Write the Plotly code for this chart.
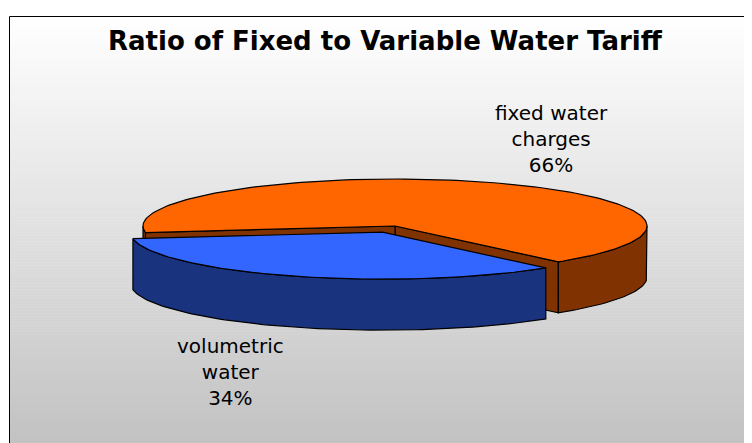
import numpy as np
import plotly.graph_objects as go

# ---------------- data ----------------
categories = ["fixed water charges", "volumetric water"]
label_lines = [["fixed water", "charges"], ["volumetric", "water"]]
values = [66, 34]
title_text = "Ratio of Fixed to Variable Water Tariff"

# ---------------- styling / geometry (screen pixel units) ----------------
VW, VH = 752, 443          # browser window
OFF = 8                    # page body margin: figure starts 8px in
W, H = VW - OFF, VH - OFF  # figure size so it reaches the window edges
top_colors = ["#FF6600", "#3366FF"]
side_colors = ["#803300", "#1A337F"]
explode = [0.0, 0.14]
CX, CY = 395.0, 226.0      # centre of pie top
RX, RY = 252.0, 47.0       # ellipse radii
DEPTH = 51.0               # thickness
START = 188.0              # first slice starts here (deg), slices run clockwise
label_pos = [(551, 139), (230, 372)]

total = float(sum(values))

fig = go.Figure()

# background gradient inside frame
FX0, FY0 = 9.5, 16.5
n_strips = 143
ys = np.linspace(FY0, VH + 2, n_strips + 1)
shapes = []
for i in range(n_strips):
    t = (0.5 * (ys[i] + ys[i + 1]) - FY0) / (VH - FY0)
    c = int(round(max(194, 255 - 61 * t)))
    shapes.append(dict(type="rect", xref="x", yref="y", x0=FX0, x1=VW,
                       y0=ys[i], y1=min(VH, ys[i + 1] + 0.6), layer="below",
                       line=dict(width=0), fillcolor=f"rgb({c},{c},{c})"))
# frame: only left and top edges are inside the window
shapes.append(dict(type="line", xref="x", yref="y", x0=FX0, y0=FY0, x1=FX0, y1=VH,
                   layer="above", line=dict(color="#000000", width=1)))
shapes.append(dict(type="line", xref="x", yref="y", x0=FX0, y0=FY0, x1=VW, y1=FY0,
                   layer="above", line=dict(color="#000000", width=1)))


def arc(a0, a1, cx, cy, dz=0.0, n=None):
    if n is None:
        n = max(2, int(abs(a1 - a0) / 1.5) + 2)
    th = np.radians(np.linspace(a0, a1, n))
    return list(cx + RX * np.cos(th)), list(cy - RY * np.sin(th) + dz)


def poly(xs, ys, fill):
    fig.add_trace(go.Scatter(x=xs + [xs[0]], y=ys + [ys[0]], mode="lines", fill="toself",
                             fillcolor=fill, line=dict(color="#000000", width=1.2),
                             hoverinfo="skip", showlegend=False))


# slice angles
slices = []
cum = 0.0
for i, v in enumerate(values):
    a_hi = START - cum / total * 360.0
    a_lo = a_hi - v / total * 360.0
    cum += v
    mid = np.radians(0.5 * (a_lo + a_hi))
    ox = explode[i] * RX * np.cos(mid)
    oy = -explode[i] * RY * np.sin(mid)
    slices.append(dict(i=i, lo=a_lo, hi=a_hi, cx=CX + ox, cy=CY + oy, s=np.sin(mid)))

# back slices first
for sl in sorted(slices, key=lambda d: -d["s"]):
    i, lo, hi, cx, cy = sl["i"], sl["lo"], sl["hi"], sl["cx"], sl["cy"]
    # radial walls
    if np.cos(np.radians(lo)) > 0:
        px, py = arc(lo, lo, cx, cy, n=1)
        poly([cx, px[0], px[0], cx], [cy, py[0], py[0] + DEPTH, cy + DEPTH], side_colors[i])
    if np.cos(np.radians(hi)) < 0:
        px, py = arc(hi, hi, cx, cy, n=1)
        poly([cx, px[0], px[0], cx], [cy, py[0], py[0] + DEPTH, cy + DEPTH], side_colors[i])
    # outer (front) walls
    for k in (-1, 0, 1):
        f0, f1 = -180 + 360 * k, 360 * k
        s, e = max(lo, f0), min(hi, f1)
        if e - s > 0.01:
            tx, ty = arc(s, e, cx, cy)
            bx, by = arc(e, s, cx, cy, dz=DEPTH)
            poly(tx + bx, ty + by, side_colors[i])
    # top face
    tx, ty = arc(lo, hi, cx, cy)
    poly([cx] + tx, [cy] + ty, top_colors[i])

annotations = [dict(x=385.5, y=41, xref="x", yref="y", text="<b>" + title_text + "</b>",
                    showarrow=False, xanchor="center", yanchor="middle",
                    font=dict(family="DejaVu Sans", size=26, color="#000000"))]
for i, v in enumerate(values):
    pct = f"{round(v / total * 100):d}%"
    txt = "<br>".join(label_lines[i] + [pct])
    annotations.append(dict(x=label_pos[i][0], y=label_pos[i][1], xref="x", yref="y",
                            text=txt, showarrow=False, xanchor="center", yanchor="middle",
                            align="center",
                            font=dict(family="DejaVu Sans", size=20, color="#000000")))

fig.update_layout(
    width=W, height=H, autosize=False,
    margin=dict(l=0, r=0, t=0, b=0),
    paper_bgcolor="#FFFFFF", plot_bgcolor="#FFFFFF",
    xaxis=dict(range=[OFF, VW], visible=False, fixedrange=True),
    yaxis=dict(range=[VH, OFF], visible=False, fixedrange=True),
    shapes=shapes, annotations=annotations, showlegend=False,
)

fig.write_html(
    "out.html",
    config={"displayModeBar": False},
    post_script="document.documentElement.style.overflow='hidden';"
                "document.body.style.overflow='hidden';",
)
